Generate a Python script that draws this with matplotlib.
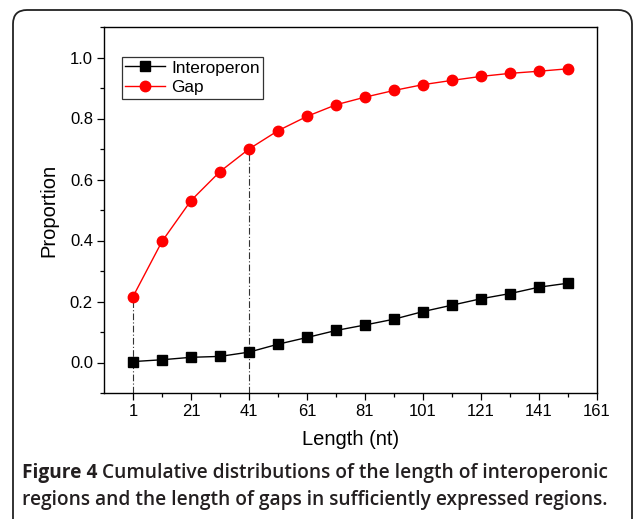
import numpy as np
import matplotlib
matplotlib.use('Agg')
import matplotlib.pyplot as plt
from matplotlib.patches import FancyBboxPatch

# lengths (nt) and cumulative proportions
length = [1, 11, 21, 31, 41, 51, 61, 71, 81, 91, 101, 111, 121, 131, 141, 151]
interoperon = [0.003, 0.009, 0.017, 0.020, 0.034, 0.060, 0.082, 0.105,
               0.123, 0.142, 0.167, 0.188, 0.209, 0.226, 0.247, 0.260]
gap = [0.216, 0.397, 0.531, 0.626, 0.700, 0.760, 0.807, 0.845,
       0.870, 0.892, 0.911, 0.925, 0.938, 0.948, 0.955, 0.963]
marked = [1, 41]   # positions of the dash-dot guide lines

xticks = [1, 21, 41, 61, 81, 101, 121, 141, 161]
xminor = [11, 31, 51, 71, 91, 111, 131, 151]
yticks = [0.0, 0.2, 0.4, 0.6, 0.8, 1.0]
yminor = [-0.1, 0.1, 0.3, 0.5, 0.7, 0.9, 1.1]

cap_bold = 'Figure 4'
cap_line1 = 'Cumulative distributions of the length of interoperonic'
cap_line2 = 'regions and the length of gaps in sufficiently expressed regions.'

plt.rcParams['font.family'] = ['Liberation Sans', 'DejaVu Sans']

W, H = 633, 519
fig = plt.figure(figsize=(W/100, H/100), dpi=100)

# rounded frame around figure + caption (inches, so the corners stay round)
frame = FancyBboxPatch((0.13, -0.3), 6.19, 5.39,
                       boxstyle='round,pad=0,rounding_size=0.14',
                       transform=fig.dpi_scale_trans, fill=False,
                       ec='#222222', lw=1.3)
fig.patches.append(frame)

ax = fig.add_axes([104/W, 1 - 393/H, 493/W, 366/H])

ax.plot(length, interoperon, color='black', lw=1.0, marker='s', ms=6.5,
        label='Interoperon')
ax.plot(length, gap, color='red', lw=1.0, marker='o', ms=7.5, label='Gap')

for m in marked:
    i = length.index(m)
    ax.plot([m, m], [-0.1, gap[i]], color='#333333', lw=0.8,
            ls=(0, (6, 2, 1, 2)), zorder=1)

ax.set_xlim(-9, 161)
ax.set_ylim(-0.1, 1.1)
ax.set_xticks(xticks)
ax.set_xticks(xminor, minor=True)
ax.set_yticks(yticks)
ax.set_yticks(yminor, minor=True)
ax.set_yticklabels(['%.1f' % v for v in yticks])
ax.tick_params(which='both', direction='out', top=False, right=False,
               labelsize=12, width=0.9)
ax.tick_params(which='major', length=5, pad=3)
ax.tick_params(which='minor', length=3.2)
for s in ax.spines.values():
    s.set_linewidth(1.0)

ax.set_xlabel('Length (nt)', fontsize=14.5, labelpad=8)
ax.set_ylabel('Proportion', fontsize=14.5, labelpad=8)

leg = ax.legend(loc='upper left', bbox_to_anchor=(0.0365, 0.918),
                fontsize=12.4, frameon=True, fancybox=False,
                borderpad=0.2, handlelength=2.3, handletextpad=0.35,
                labelspacing=0.28, borderaxespad=0)
leg.get_frame().set_edgecolor('black')
leg.get_frame().set_linewidth(0.9)

# caption: bold "Figure 4" then the rest in semibold
cap_font = ['Open Sans', 'DejaVu Sans']
cap_size = 13.8
t = fig.text(22/W, 1 - 478/H, cap_bold + ' ', fontsize=cap_size,
             va='baseline', ha='left', family=cap_font, fontweight='bold',
             color='#231f20')
r = fig.canvas.get_renderer()
bb = t.get_window_extent(r)
fig.text(bb.x1/W, 1 - 478/H, cap_line1, fontsize=cap_size, va='baseline',
         ha='left', family=cap_font, fontweight='semibold', color='#231f20')
fig.text(22/W, 1 - 505/H, cap_line2, fontsize=cap_size, va='baseline',
         ha='left', family=cap_font, fontweight='semibold', color='#231f20')

fig.savefig('out.png', dpi=100)
